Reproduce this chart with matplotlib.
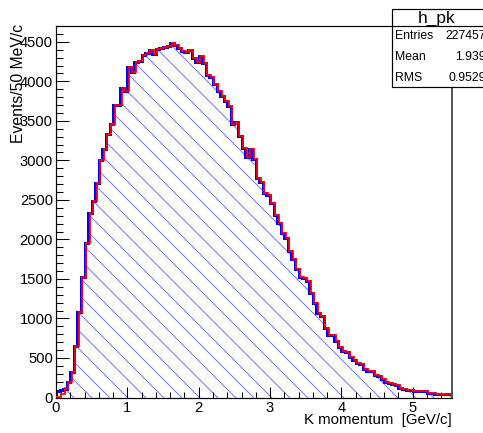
import numpy as np
import matplotlib
matplotlib.use('Agg')
import matplotlib.pyplot as plt
from matplotlib.patches import Rectangle
from matplotlib.lines import Line2D
from matplotlib.ticker import MultipleLocator

# h_pk : K momentum, 50 MeV/c bins from 0 to 5.55 GeV/c
bin_width = 0.05
blue_counts = [80, 100, 110, 190, 320, 650, 1080, 1520, 1950, 2330,
               2480, 2710, 3000, 3140, 3330, 3455, 3700, 3700, 3920, 3880,
               4175, 4120, 4250, 4255, 4330, 4360, 4400, 4340, 4415, 4420,
               4440, 4445, 4490, 4460, 4420, 4390, 4370, 4395, 4300, 4240,
               4325, 4237, 4080, 4060, 3960, 3880, 3820, 3750, 3690, 3456,
               3480, 3310, 3160, 3040, 3150, 3020, 2780, 2726, 2590, 2557,
               2465, 2304, 2212, 2085, 2022, 1852, 1747, 1620, 1528, 1515,
               1473, 1325, 1199, 1072, 1029, 882, 797, 790, 713, 642,
               590, 580, 515, 472, 435, 425, 363, 335, 330, 280,
               275, 237, 190, 185, 168, 162, 123, 105, 100, 98,
               82, 80, 78, 80, 55, 52, 50, 50, 48, 50,
               45]
red_counts = [10, 50, 120, 190, 320, 650, 1080, 1520, 1950, 2330,
              2480, 2710, 3000, 3140, 3330, 3455, 3700, 3700, 3920, 3880,
              4175, 4120, 4250, 4255, 4330, 4360, 4400, 4340, 4415, 4420,
              4440, 4445, 4490, 4460, 4420, 4390, 4370, 4395, 4300, 4240,
              4325, 4237, 4080, 4060, 3960, 3880, 3820, 3750, 3690, 3456,
              3480, 3310, 3160, 3040, 3150, 3020, 2780, 2726, 2590, 2557,
              2465, 2304, 2212, 2085, 2022, 1852, 1747, 1620, 1528, 1515,
              1473, 1325, 1199, 1072, 1029, 882, 797, 790, 713, 642,
              590, 580, 515, 472, 435, 425, 363, 335, 330, 280,
              275, 237, 190, 185, 168, 162, 123, 105, 100, 98,
              82, 80, 78, 80, 55, 52, 50, 50, 48, 50,
              45]
hist_name = 'h_pk'
stat_names = ['Entries', 'Mean', 'RMS']
stat_values = ['227457', '1.939', '0.9529']

plt.rcParams['font.family'] = ['Liberation Sans', 'DejaVu Sans']
plt.rcParams['hatch.linewidth'] = 0.6

W, H, DPI = 483, 433, 108
fig = plt.figure(figsize=(W / DPI, H / DPI), dpi=DPI)


def fx(px):
    return px / W


def fy(py):
    return 1 - py / H


ax = fig.add_axes([fx(56), fy(397.5), fx(452) - fx(56), fy(26) - fy(397.5)])

edges = np.arange(len(blue_counts) + 1) * bin_width
# hatched area under the blue histogram
ax.stairs(blue_counts, edges, fill=True, facecolor='none', edgecolor='#6a6aff',
          hatch='\\\\', linewidth=0, zorder=1)
ax.stairs(blue_counts, edges, color='#0000ff', linewidth=2.0, zorder=2)
# red one is drawn a hair to the right, as in the original canvas
ax.stairs(red_counts, edges + 0.02, color='#ff0000', linewidth=1.2, zorder=3)

ax.set_xlim(0, len(blue_counts) * bin_width)
ax.set_ylim(0, 4700)
ax.xaxis.set_major_locator(MultipleLocator(1))
ax.xaxis.set_minor_locator(MultipleLocator(0.2))
ax.yaxis.set_major_locator(MultipleLocator(500))
ax.yaxis.set_minor_locator(MultipleLocator(100))
ax.tick_params(which='both', direction='in', top=False, right=False, width=0.7,
               labelsize=9.8, colors='black')
ax.tick_params(axis='y', which='major', length=8.5, pad=2)
ax.tick_params(axis='y', which='minor', length=4.5)
ax.tick_params(axis='x', which='major', length=7.5, pad=2)
ax.tick_params(axis='x', which='minor', length=3.8)
for s in ax.spines.values():
    s.set_linewidth(0.8)
ax.spines['right'].set_color('#555555')
ax.spines['right'].set_linewidth(1.3)

fig.text(fx(452), fy(420), 'K momentum  [GeV/c]', ha='right', va='center', fontsize=10)
fig.text(fx(19), fy(24), 'Events/50 MeV/c', rotation=90, ha='center', va='top', fontsize=10.5)

# stats box (cut by the right edge)
box = Rectangle((fx(392), fy(87)), fx(492) - fx(392), fy(9) - fy(87), transform=fig.transFigure,
                facecolor='white', edgecolor='black', linewidth=0.8, zorder=5)
fig.add_artist(box)
fig.add_artist(Line2D([fx(392), fx(492)], [fy(26), fy(26)], transform=fig.transFigure,
                      color='black', linewidth=0.8, zorder=6))
fig.text(fx(437), fy(18), hist_name, ha='center', va='center', fontsize=11.5, zorder=7)
for i, (n, v) in enumerate(zip(stat_names, stat_values)):
    yy = fy(36 + i * 21)
    fig.text(fx(395), yy, n, ha='left', va='center', fontsize=8.2, zorder=7)
    fig.text(fx(486), yy, v, ha='right', va='center', fontsize=8.2, zorder=7)

fig.savefig('out.png', dpi=DPI)
